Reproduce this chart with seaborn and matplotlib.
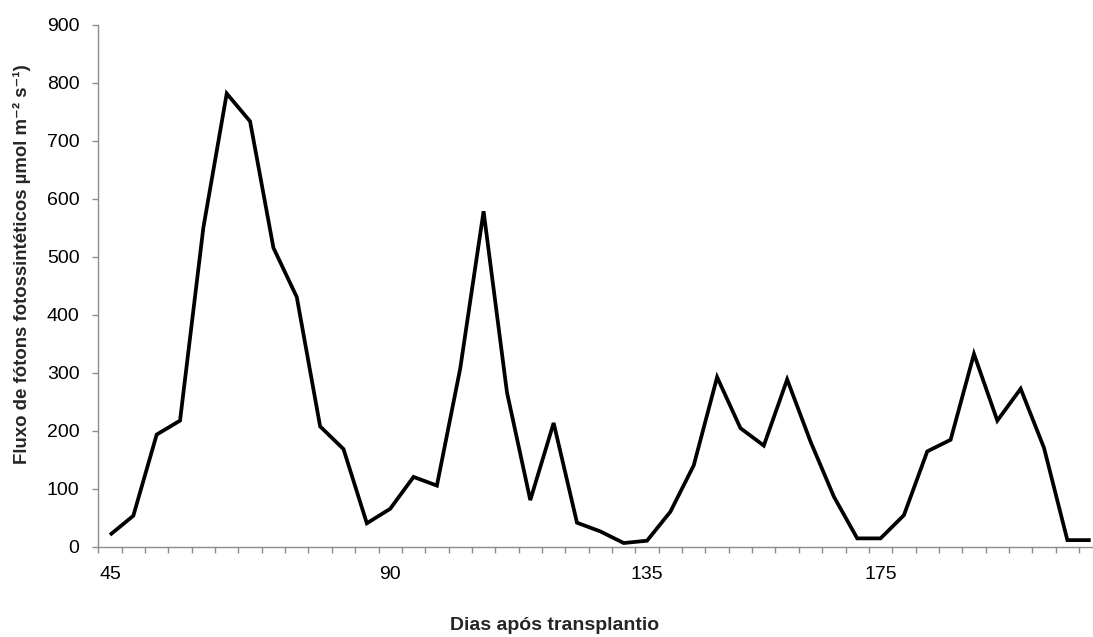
import numpy as np
import pandas as pd
import matplotlib
matplotlib.use("Agg")
import matplotlib.pyplot as plt
import seaborn as sns

# Photosynthetic photon flux density, one reading per sampling date
ppfd = [20, 53, 193, 217, 550, 781, 733, 515, 430, 207,
        168, 40, 65, 120, 105, 307, 578, 266, 80, 213,
        41, 26, 6, 10, 60, 140, 292, 204, 174, 288,
        181, 86, 14, 14, 54, 164, 184, 332, 217, 272,
        170, 11, 11]

# Labelled sampling dates (days after transplanting) and their positions
day_labels = ["45", "90", "135", "175"]
day_label_pos = [0, 12, 23, 33]

y_ticks = list(range(0, 901, 100))

df = pd.DataFrame({"amostra": np.arange(len(ppfd)), "ppfd": ppfd})

sns.set_style("white")
plt.rcParams["font.family"] = ["Liberation Sans", "DejaVu Sans"]

fig = plt.figure(figsize=(10.93, 6.37), dpi=100)
ax = fig.add_axes([98.3 / 1093, 90.5 / 637, 1004.1 / 1093, 522.0 / 637])

sns.lineplot(data=df, x="amostra", y="ppfd", ax=ax, color="black",
             linewidth=2.7, solid_joinstyle="miter", solid_capstyle="butt")

n = len(ppfd)
ax.set_xlim(-0.5, n - 0.5)
ax.set_ylim(0, 900)

axis_grey = "#8c8c8c"
for side in ("top", "right"):
    ax.spines[side].set_visible(False)
for side in ("left", "bottom"):
    ax.spines[side].set_color(axis_grey)
    ax.spines[side].set_linewidth(1.0)

# Category boundaries get the tick marks; labels sit under selected dates
ax.set_xticks(np.arange(-0.5, n, 1.0))
ax.set_xticklabels([])
ax.set_xticks(day_label_pos, minor=True)
ax.set_xticklabels(day_labels, minor=True)
ax.tick_params(axis="x", which="major", direction="out", length=4.5,
               width=1.0, color=axis_grey, bottom=True)
ax.tick_params(axis="x", which="minor", length=0, pad=14, labelsize=14,
               labelcolor="black", bottom=True)

ax.set_yticks(y_ticks)
ax.set_yticklabels([str(v) for v in y_ticks])
ax.tick_params(axis="y", direction="out", length=4.5, width=1.0,
               color=axis_grey, pad=9, labelsize=14, labelcolor="black",
               left=True)

ax.set_xlabel("")
ax.set_ylabel("")
ax.grid(False)

fig.text(555 / 1093, 1 - 625 / 637, "Dias após transplantio",
         ha="center", va="center", fontsize=14, fontweight="bold")
fig.text(22 / 1093, 1 - 264 / 637,
         "Fluxo de fótons fotossintéticos µmol m⁻² s⁻¹)",
         ha="center", va="center", rotation=90, fontsize=13.4,
         fontweight="bold", family=["Liberation Sans", "DejaVu Sans"])

fig.savefig("out.png", dpi=100)
